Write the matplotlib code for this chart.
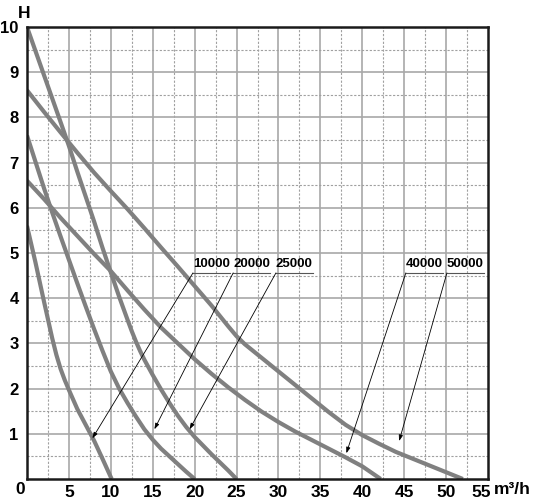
import matplotlib
matplotlib.use("Agg")
import matplotlib.pyplot as plt
from matplotlib.transforms import ScaledTranslation
import numpy as np

plt.rcParams['font.family'] = ['Liberation Sans', 'DejaVu Sans']

# ---- data ----
series_names = ["10000", "20000", "25000", "40000", "50000"]

x_10000 = [0, 1, 2, 3, 3.5, 4, 4.5, 5, 6, 7, 8, 9, 10.1]
y_10000 = [5.6, 4.8, 3.95, 3.12, 2.75, 2.44, 2.19, 1.97, 1.55, 1.2, 0.85, 0.45, 0]

x_20000 = [0, 2, 3, 4, 5, 6, 7, 8, 9, 10, 11, 12, 13, 14, 15, 16, 17, 18, 19, 20]
y_20000 = [7.6, 6.45, 5.9, 5.37, 4.85, 4.33, 3.82, 3.32, 2.84, 2.38, 2.0, 1.68,
           1.38, 1.1, 0.87, 0.67, 0.5, 0.33, 0.16, 0]

x_25000 = [0, 2, 4, 5, 6, 7, 8, 9, 10, 11, 12, 12.5, 13, 13.5, 14, 15, 16, 17, 18,
           19, 20, 21, 22, 23, 24, 25]
y_25000 = [10, 8.95, 7.9, 7.37, 6.8, 6.25, 5.7, 5.12, 4.57, 4.03, 3.52, 3.27, 3.04,
           2.83, 2.64, 2.3, 1.98, 1.68, 1.4, 1.15, 0.93, 0.74, 0.55, 0.37, 0.19, 0]

x_40000 = [0, 2, 4, 6, 8, 10, 12, 14, 16, 18, 20, 22, 24, 26, 28, 30, 32, 34, 36,
           38, 40, 42.2]
y_40000 = [6.6, 6.2, 5.78, 5.38, 4.98, 4.6, 4.17, 3.75, 3.35, 3.0, 2.65, 2.33, 2.03,
           1.75, 1.49, 1.26, 1.05, 0.86, 0.67, 0.48, 0.28, 0]

x_50000 = [0, 2, 4, 6, 8, 10, 12, 14, 16, 18, 20, 22, 23, 24, 25, 26, 27, 28, 30,
           32, 34, 36, 38, 40, 42, 44, 46, 48, 50, 52]
y_50000 = [8.6, 8.13, 7.67, 7.22, 6.78, 6.37, 5.97, 5.55, 5.12, 4.7, 4.27, 3.84,
           3.61, 3.38, 3.16, 2.98, 2.83, 2.68, 2.38, 2.08, 1.78, 1.48, 1.2, 0.97,
           0.78, 0.6, 0.45, 0.3, 0.15, 0]

# annotation targets (points on curves) and label anchor x
ann_targets = [(7.8, 0.9), (15.2, 1.1), (19.4, 1.1), (38.1, 0.57), (44.4, 0.84)]
label_x = [19.8, 24.6, 29.7, 45.2, 50.1]
label_y = 4.56

x_ticks = [5, 10, 15, 20, 25, 30, 35, 40, 45, 50, 55]
y_ticks = [1, 2, 3, 4, 5, 6, 7, 8, 9, 10]

# ---- figure ----
W, H = 533, 501
fig = plt.figure(figsize=(W / 100, H / 100), dpi=100)
L, R, T, B = 27, 488, 27, 479
ax = fig.add_axes([L / W, (H - B) / H, (R - L) / W, (B - T) / H])
ax.set_xlim(0, 55)
ax.set_ylim(0, 10)

# grid
for gx in np.arange(2.5, 55, 2.5):
    if abs(gx % 5) < 1e-9:
        ax.axvline(gx, color="#a8a8a8", lw=1.2, zorder=1)
    else:
        ax.axvline(gx, color="#a0a0a0", lw=0.8, ls=(0, (2, 1.5)), zorder=1)
for gy in np.arange(0.5, 10, 0.5):
    if abs(gy % 1) < 1e-9:
        ax.axhline(gy, color="#a8a8a8", lw=1.2, zorder=1)
    else:
        ax.axhline(gy, color="#a0a0a0", lw=0.8, ls=(0, (2, 1.5)), zorder=1)

curves = [(x_10000, y_10000), (x_20000, y_20000), (x_25000, y_25000),
          (x_40000, y_40000), (x_50000, y_50000)]
for xs, ys in curves:
    ax.plot(xs, ys, color="#808080", lw=3.0, solid_capstyle="butt",
            solid_joinstyle="round", zorder=3)

# annotations
fig.canvas.draw()
for name, (tx, ty), lx in zip(series_names, ann_targets, label_x):
    t = ax.text(lx, label_y + 0.06, name, fontsize=9.5, fontweight="bold",
                ha="left", va="bottom", color="black", zorder=5)
    fig.canvas.draw()
    bb = t.get_window_extent().transformed(ax.transData.inverted())
    ax.plot([lx, bb.x1], [label_y, label_y], color="#555555", lw=0.8, zorder=5)
    ax.annotate("", xy=(tx, ty), xytext=(lx, label_y),
                arrowprops=dict(arrowstyle="-|>,head_length=0.35,head_width=0.12",
                                color="black", lw=0.6, shrinkA=0, shrinkB=0),
                zorder=5)

for s in ax.spines.values():
    s.set_color("#1a1a1a")
    s.set_linewidth(1.8)
    s.set_zorder(6)

ax.set_xticks(x_ticks)
ax.set_yticks(y_ticks)
ax.tick_params(length=0, labelsize=12.5, pad=4)
ax.tick_params(axis="y", pad=6, labelsize=12)
for lab in ax.get_xticklabels() + ax.get_yticklabels():
    lab.set_fontweight("bold")
last = ax.get_xticklabels()[-1]
last.set_horizontalalignment("right")
last.set_transform(last.get_transform() + ScaledTranslation(3 / 100, 0, fig.dpi_scale_trans))

fig.text(20 / W, 1 - 490 / H, "0", fontsize=12.5, fontweight="bold",
         ha="center", va="center")
fig.text(24 / W, 1 - 13 / H, "H", fontsize=12.5, fontweight="bold",
         ha="center", va="center")
fig.text(494 / W, 1 - 489 / H, "m³/h", fontsize=12.5, fontweight="bold",
         ha="left", va="center")

fig.savefig("out.png", dpi=100)
